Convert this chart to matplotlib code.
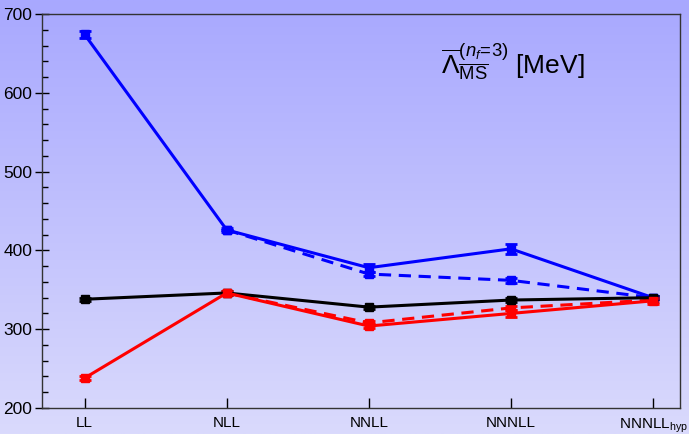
import numpy as np
import matplotlib
matplotlib.use("Agg")
import matplotlib.pyplot as plt

# order labels
orders = ["LL", "NLL", "NNLL", "NNNLL", r"NNNLL$_{\mathrm{hyp}}$"]

# blue solid / dashed
blue_solid = [674, 426, 378, 402, 340]
blue_solid_err = [5, 3, 5, 6, 2]
blue_dash = [None, 426, 370, 362, 340]
blue_dash_err = [0, 0, 3, 3, 2]
# black
black_vals = [338, 346, 328, 337, 340]
black_err = [2, 2, 2, 2, 2]
# red solid / dashed
red_solid = [238, 346, 304, 320, 336]
red_solid_err = [2, 2, 3, 4, 4]
red_dash = [None, 346, 308, 327, 337]
red_dash_err = [0, 0, 2, 3, 3]

plt.rcParams['font.family'] = ['Liberation Sans', 'DejaVu Sans']
plt.rcParams['mathtext.fontset'] = 'custom'
plt.rcParams['mathtext.rm'] = 'Liberation Sans'
plt.rcParams['mathtext.it'] = 'Liberation Sans:italic'
plt.rcParams['mathtext.bf'] = 'Liberation Sans:bold'

fig = plt.figure(figsize=(6.89, 4.34), dpi=100)

# gradient background over whole figure
bg = fig.add_axes([0, 0, 1, 1], zorder=-10)
top = np.array([168, 168, 255]) / 255
bot = np.array([218, 218, 252]) / 255
t = np.linspace(0, 1, 256)[:, None]
grad = top[None, :] * (1 - t) + bot[None, :] * t
bg.imshow(grad[:, None, :].repeat(2, axis=1), aspect='auto', extent=[0, 1, 0, 1])
bg.axis('off')

ax = fig.add_axes([42 / 689, 26 / 434, 638 / 689, 394 / 434])
ax.set_facecolor('none')

x = np.arange(len(orders))


def series(vals, errs, color, ls):
    xs = [xi for xi, v in zip(x, vals) if v is not None]
    ys = [v for v in vals if v is not None]
    es = [e for v, e in zip(vals, errs) if v is not None]
    kw = dict(color=color, lw=2.2, marker='s', ms=5.5, capsize=4, capthick=2, elinewidth=2)
    if ls == '--':
        kw['ls'] = (0, (4, 2.5))
    ax.errorbar(xs, ys, yerr=es, **kw)


series(blue_dash, blue_dash_err, '#0000ff', '--')
series(red_dash, red_dash_err, '#ff0000', '--')
series(blue_solid, blue_solid_err, '#0000ff', '-')
series(black_vals, black_err, 'black', '-')
series(red_solid, red_solid_err, '#ff0000', '-')

ax.set_xlim(-0.3, 4.19)
ax.set_ylim(200, 700)
ax.set_xticks(x)
ax.set_xticklabels(orders, fontsize=11)
ax.get_xticklabels()[-1].set_x(3.97)
ax.set_yticks(range(200, 701, 100))
ax.set_yticks(range(200, 701, 20), minor=True)
ax.tick_params(axis='y', which='major', direction='inout', length=10, width=1, labelsize=12.5, pad=2)
ax.tick_params(axis='y', which='minor', direction='in', length=4, width=1)
ax.tick_params(axis='x', which='major', direction='in', length=7, width=1, pad=6)
ax.tick_params(right=False, top=False)
for s in ax.spines.values():
    s.set_color('#333333')
    s.set_linewidth(1)

ax.text(0.625, 0.878, r'$\overline{\Lambda}_{\overline{\mathrm{MS}}}^{(n_f\!=\!3)}$ [MeV]',
        transform=ax.transAxes, fontsize=19, ha='left', va='center')

fig.savefig('out.png', dpi=100)
